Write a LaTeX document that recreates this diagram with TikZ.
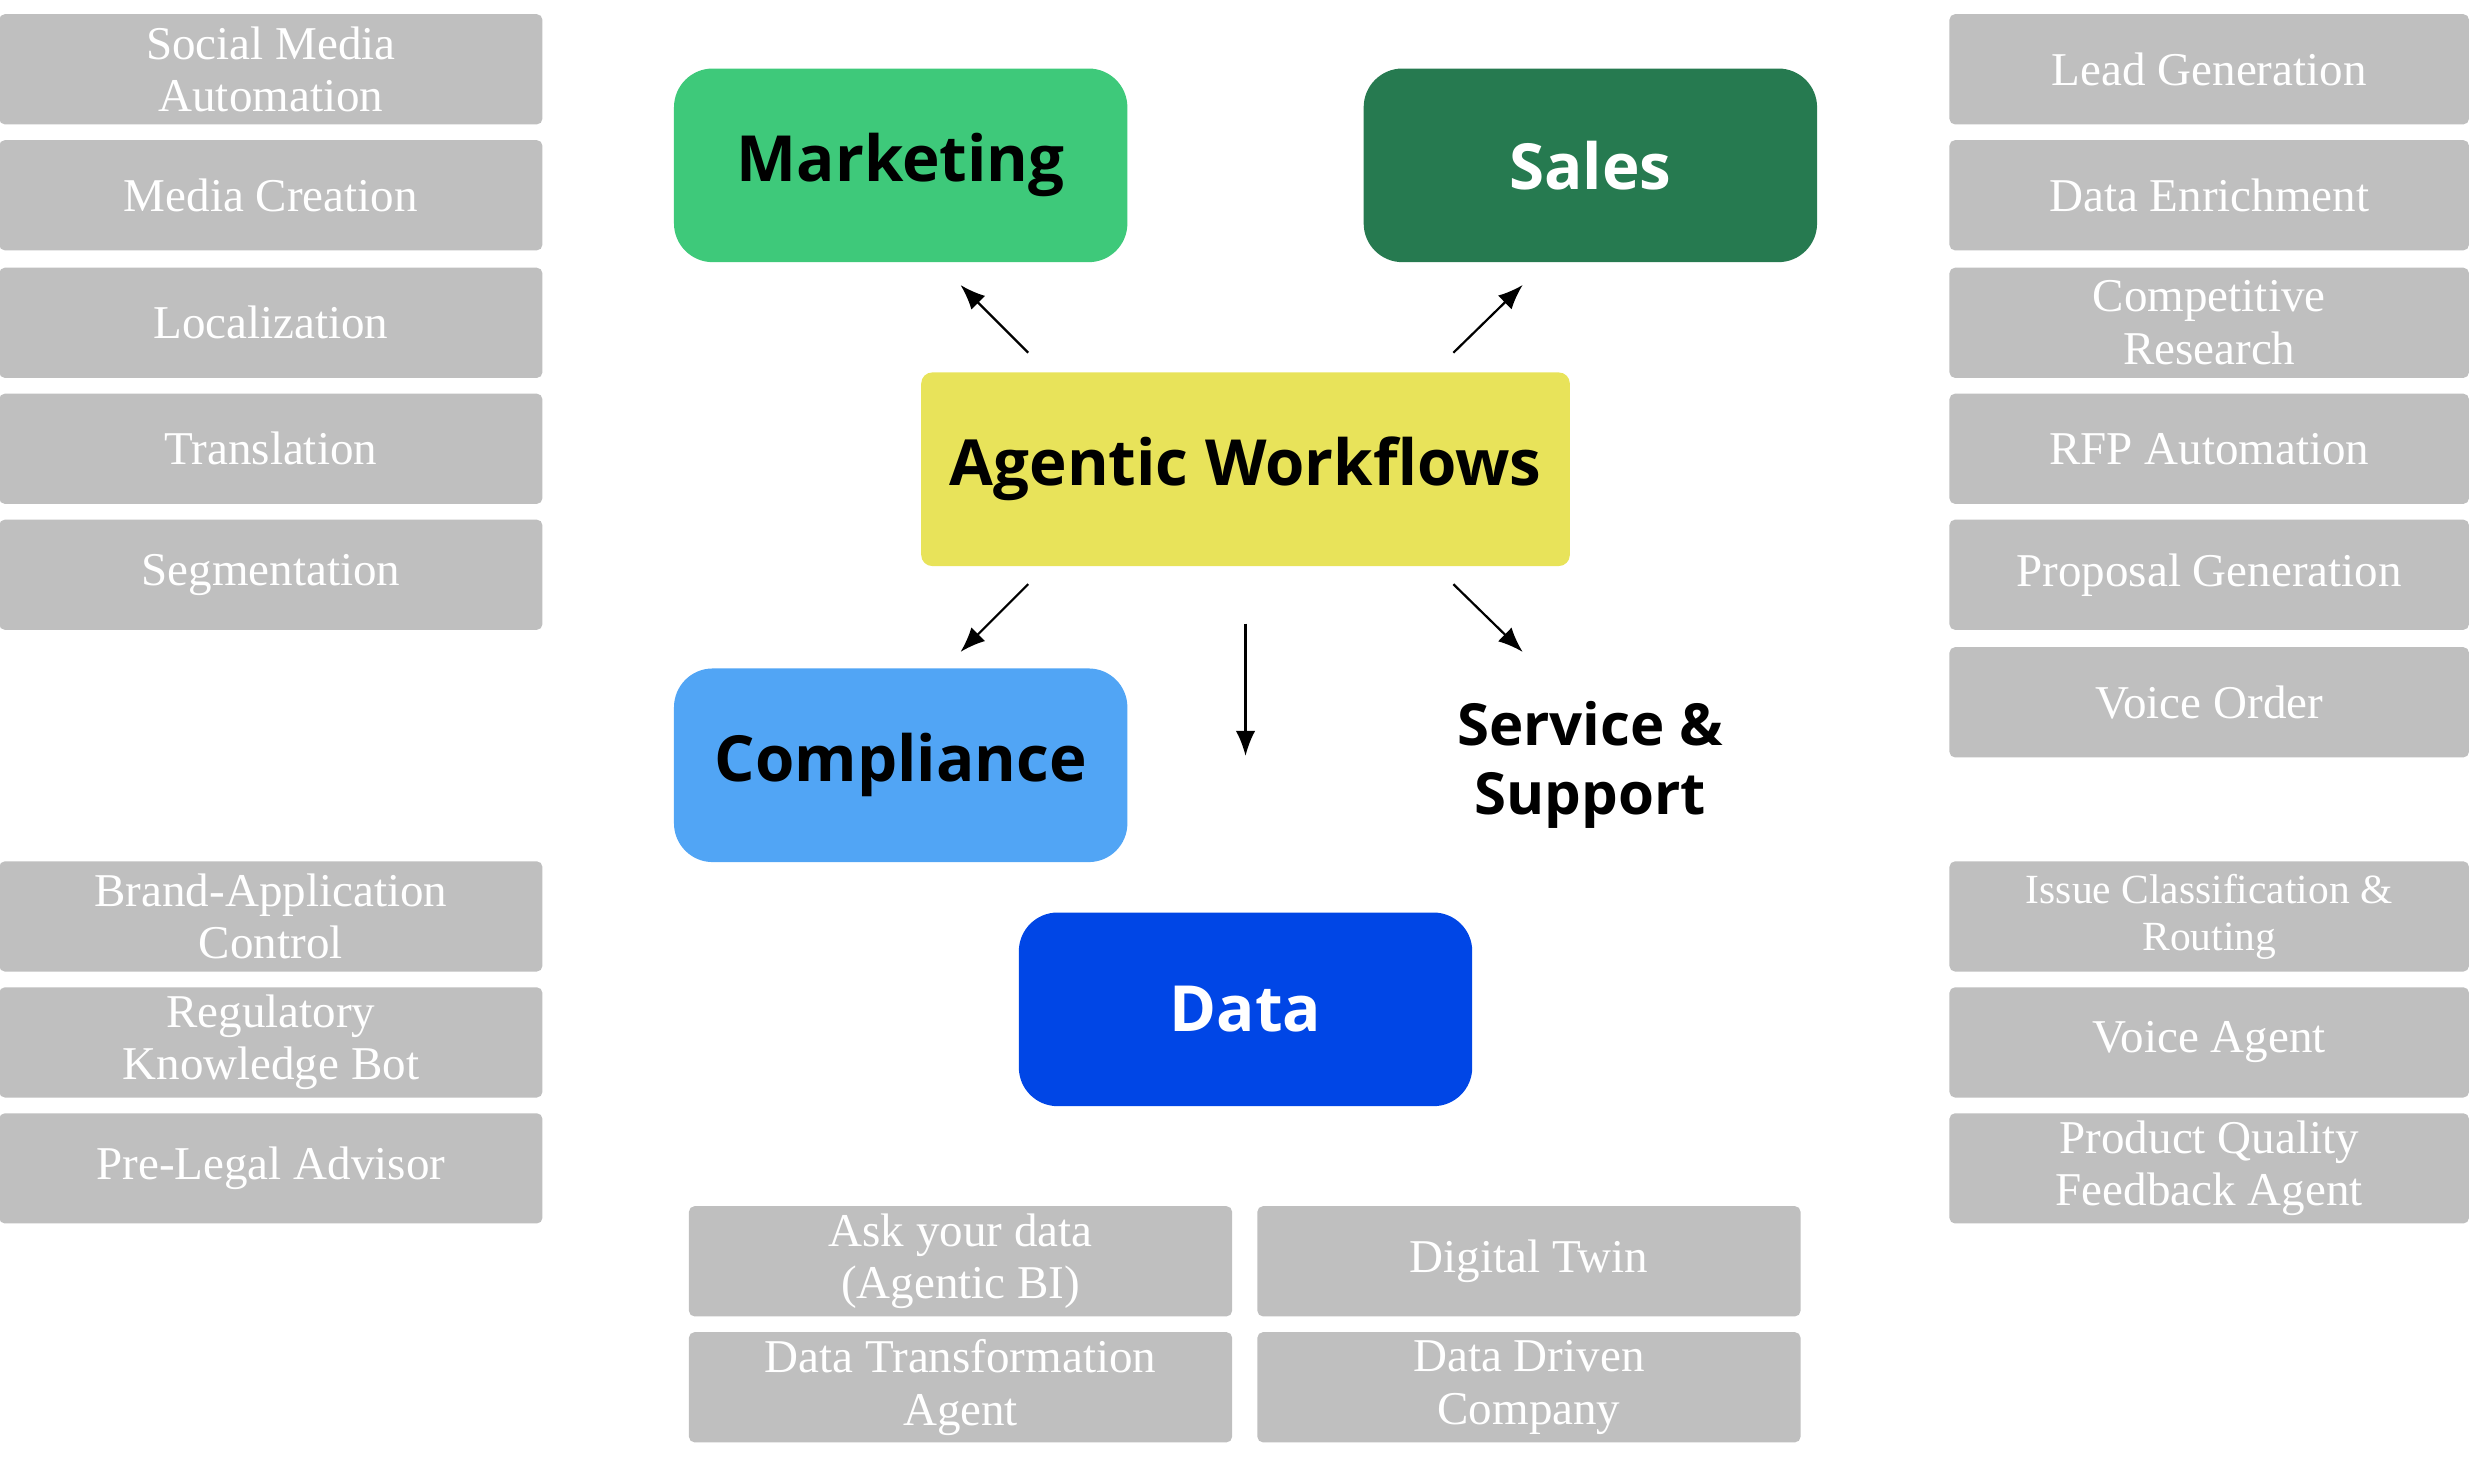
\documentclass[tikz,border=0pt]{standalone}
\usepackage{fontspec}
\setmainfont{Liberation Serif}
\newfontfamily\headfont{Open Sans}
\usetikzlibrary{arrows.meta}
\definecolor{boxgray}{HTML}{BFBFBF}
\definecolor{mkt}{HTML}{3EC97A}
\definecolor{sal}{HTML}{267A50}
\definecolor{agw}{HTML}{E8E35A}
\definecolor{cmp}{HTML}{51A5F5}
\definecolor{dat}{HTML}{0046E6}
\begin{document}
\begin{tikzpicture}[x=0.02cm, y=-0.02cm,
  item/.style = {fill=boxgray, rounded corners=2pt, minimum width=6.9cm, minimum height=1.4cm,
    align=center, text=white, font=\fontsize{17}{19}\selectfont, inner sep=0pt},
  area/.style = {rounded corners=14pt, minimum width=5.76cm, minimum height=2.46cm,
    align=center, font=\headfont\bfseries\fontsize{23}{28}\selectfont},
  arr/.style = {-{Latex[length=9pt,width=7pt]}, line width=0.8pt}]
\useasboundingbox (0,0) rectangle (1568,930);
% left column
\node[item] (l1) at (172,44) {Social Media\\Automation};
\node[item] (l2) at (172,124) {Media Creation};
\node[item] (l3) at (172,205) {Localization};
\node[item] (l4) at (172,285) {Translation};
\node[item] (l5) at (172,365) {Segmentation};
\node[item] (l6) at (172,582) {Brand-Application\\Control};
\node[item] (l7) at (172,662) {Regulatory\\Knowledge Bot};
\node[item] (l8) at (172,742) {Pre-Legal Advisor};
% right column
\node[item, minimum width=6.6cm] (r1) at (1403,44) {Lead Generation};
\node[item, minimum width=6.6cm] (r2) at (1403,124) {Data Enrichment};
\node[item, minimum width=6.6cm] (r3) at (1403,205) {Competitive\\Research};
\node[item, minimum width=6.6cm] (r4) at (1403,285) {RFP Automation};
\node[item, minimum width=6.6cm] (r5) at (1403,365) {Proposal Generation};
\node[item, minimum width=6.6cm] (r6) at (1403,446) {Voice Order};
\node[item, minimum width=6.6cm, font=\fontsize{15}{17}\selectfont] (r7) at (1403,582) {Issue Classification \&\\Routing};
\node[item, minimum width=6.6cm] (r8) at (1403,662) {Voice Agent};
\node[item, minimum width=6.6cm] (r9) at (1403,742) {Product Quality\\Feedback Agent};
% bottom
\node[item] (b1) at (610,801) {Ask your data\\(Agentic BI)};
\node[item] (b2) at (971,801) {Digital Twin};
\node[item] (b3) at (610,881) {Data Transformation\\Agent};
\node[item] (b4) at (971,881) {Data Driven\\Company};
% areas
\node[area, fill=mkt] (mkt) at (572,105) {Marketing};
\node[area, fill=sal, text=white] (sal) at (1010,105) {Sales};
\node[area, fill=agw, rounded corners=4pt, minimum width=8.24cm] (agw) at (791,298) {Agentic Workflows};
\node[area, fill=cmp] (cmp) at (572,486) {Compliance};
\node[area, fill=dat, text=white] (dat) at (791,641) {Data};
\node[area, font=\headfont\bfseries\fontsize{21}{25}\selectfont] (svc) at (1010,486) {Service \&\\Support};
% arrows
\coordinate (a1) at (653,224); \coordinate (e1) at (610,181);
\coordinate (a2) at (923,224); \coordinate (e2) at (967,181);
\coordinate (a3) at (653,371); \coordinate (e3) at (610,414);
\coordinate (a4) at (923,371); \coordinate (e4) at (967,414);
\coordinate (a5) at (791,396); \coordinate (e5) at (791,480);
\draw[arr] (a1) -- (e1);
\draw[arr] (a2) -- (e2);
\draw[arr] (a3) -- (e3);
\draw[arr] (a4) -- (e4);
\draw[arr] (a5) -- (e5);
\end{tikzpicture}
\end{document}
